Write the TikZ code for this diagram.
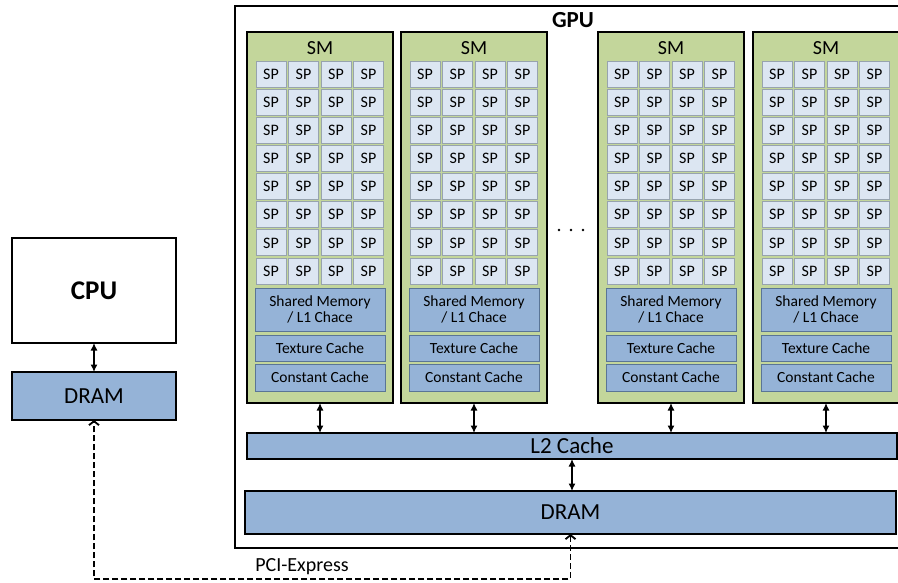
\documentclass[tikz,border=0pt]{standalone}
\usepackage{fontspec}
\setmainfont{Carlito}
\usetikzlibrary{arrows.meta}
\definecolor{smgreen}{HTML}{C3D69B}
\definecolor{spfill}{HTML}{DCE6F2}
\definecolor{spline}{HTML}{97A3AE}
\definecolor{memfill}{HTML}{95B3D7}
\definecolor{memline}{HTML}{5A7596}
\newcommand{\fs}[1]{\fontsize{#1}{#1}\selectfont}
\begin{document}
\begin{tikzpicture}[x=1pt,y=-1pt,
  box/.style={anchor=north west, inner sep=0pt, outer sep=0pt},
  smbox/.style={box, draw=black, line width=2pt, fill=smgreen},
  spcell/.style={box, draw=spline, line width=0.8pt, fill=spfill,
    minimum width=30pt, minimum height=26pt, font=\fs{16}},
  membox/.style={box, draw=memline, line width=0.8pt, fill=memfill,
    minimum width=130pt, font=\fs{15.5}, align=center},
  bigmem/.style={box, draw=black, line width=2pt, fill=memfill, font=\fs{23}},
  plainbox/.style={box, draw=black, line width=2pt, fill=white},
  biarrow/.style={{Latex[length=7.5pt,width=7pt]}-{Latex[length=7.5pt,width=7pt]}, line width=1.2pt},
  pcie/.style={dash pattern=on 6pt off 3pt, line width=1.8pt,
    {Straight Barb[length=4pt,width=10pt]}-{Straight Barb[length=4pt,width=10pt]}}
]
\useasboundingbox (0,0) rectangle (898,583);
\clip (0,0) rectangle (898,583);

% host side
\node[plainbox, minimum width=164pt, minimum height=105pt] (cpu) at (12,238) {};
\node[font=\bfseries\fs{27}] (cpulabel) at (cpu.center) {CPU};
\node[bigmem, minimum width=164pt, minimum height=48pt] (cdram) at (12,372) {DRAM};
\draw[biarrow] (cpu.south) -- (cdram.north);

% device
\node[plainbox, minimum width=675pt, minimum height=542pt] (gpu) at (235,6) {};
\node[font=\bfseries\fs{23}] (gpulabel) at (573,20) {GPU};
\node[bigmem, minimum width=650pt, minimum height=26pt] (l2) at (247,433) {L2 Cache};
\node[bigmem, minimum width=651pt, minimum height=43pt] (gdram) at (245,491) {DRAM};
\draw[biarrow] (l2.south) -- (l2.south |- gdram.north);

% streaming multiprocessors
\foreach \i/\x in {1/247,2/401,3/598,4/753} {
  \node[smbox, minimum width=146pt, minimum height=371pt] (sm\i) at (\x,32) {};
  \node[font=\fs{20}] (smlabel\i) at (\x+73,48) {SM};
  \foreach \r in {0,...,7} {
    \foreach \c in {0,...,3} {
      \node[spcell] (sp\i-\r-\c) at ({\x+9+32.5*\c},{61+28.15*\r}) {SP};
    }
  }
  \node[membox, minimum height=43pt] (shm\i) at (\x+8,288) {Shared Memory\\[0pt]/ L1 Chace};
  \node[membox, minimum height=26pt] (tex\i) at (\x+8,335) {Texture Cache};
  \node[membox, minimum height=27pt] (con\i) at (\x+8,364) {Constant Cache};
  \draw[biarrow] (sm\i.south) -- (sm\i.south |- l2.north);
}

% more SMs in between
\foreach \d in {559,571,583} \fill (\d,230) circle (1.3pt);

% host-device link
\draw[pcie] (gdram.south) -- ++(0,45) -| (cdram.south);
\node[font=\fs{20}] (pcilabel) at (302,567) {PCI-Express};
\end{tikzpicture}
\end{document}
